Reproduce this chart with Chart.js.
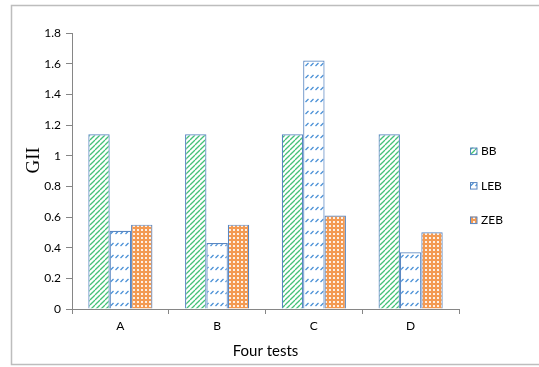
<!DOCTYPE html>
<html>
<head>
<meta charset="utf-8">
<script src="https://cdn.jsdelivr.net/npm/chart.js@4/dist/chart.umd.min.js"></script>
<style>
  html, body { margin: 0; padding: 0; background: #fff; }
  #wrap { position: relative; width: 539px; height: 367px; }
</style>
</head>
<body>
<div id="wrap"><canvas id="c" width="539" height="367"></canvas></div>
<script>
// GII per test for the three beam types
const categories = ['A', 'B', 'C', 'D'];
const seriesNames = ['BB', 'LEB', 'ZEB'];
const bbValues  = [1.14, 1.14, 1.14, 1.14];
const lebValues = [0.51, 0.43, 1.62, 0.37];
const zebValues = [0.55, 0.55, 0.61, 0.50];
const yTickValues = [0, 0.2, 0.4, 0.6, 0.8, 1, 1.2, 1.4, 1.6, 1.8];
const yTickLabels = ['0', '0.2', '0.4', '0.6', '0.8', '1', '1.2', '1.4', '1.6', '1.8'];
const xTitle = 'Four tests';
const yTitle = 'GII';

const labelFont = 'Lato, "Liberation Sans", sans-serif';

// Fill patterns built on small tiles
function makeTile(w, h, draw) {
  const t = document.createElement('canvas');
  t.width = w; t.height = h;
  const g = t.getContext('2d');
  draw(g, w, h);
  return document.getElementById('c').getContext('2d').createPattern(t, 'repeat');
}
const greenHatch = makeTile(5, 5, (g, w, h) => {
  g.fillStyle = '#ffffff'; g.fillRect(0, 0, w, h);
  g.strokeStyle = '#45c177'; g.lineWidth = 1.3;
  for (let k = -1; k <= 1; k++) {
    g.beginPath(); g.moveTo(k * w, h); g.lineTo(k * w + w, 0); g.stroke();
  }
});
const blueDashes = makeTile(5, 12, (g, w, h) => {
  g.fillStyle = '#ffffff'; g.fillRect(0, 0, w, h);
  g.strokeStyle = '#4a90d6'; g.lineWidth = 1.2;
  g.beginPath(); g.moveTo(0.5, 6); g.lineTo(3.5, 3); g.stroke();
});
const orangeGrid = makeTile(4, 4, (g, w, h) => {
  g.fillStyle = '#f39a52'; g.fillRect(0, 0, w, h);
  g.fillStyle = 'rgba(255,255,255,0.85)'; g.fillRect(1, 1, 2, 2);
});
const fills = [greenHatch, blueDashes, orangeGrid];
const edgeColor = '#5a87c2';

// Outer frame of the chart
const framePlugin = {
  id: 'frame',
  beforeDraw(chart) {
    const ctx = chart.ctx;
    ctx.save();
    ctx.strokeStyle = '#bdbdbd';
    ctx.lineWidth = 1.5;
    ctx.strokeRect(11.5, 5.5, 560, 359);
    ctx.restore();
  }
};

// Vertical axis caption, set beside the upper half of the value labels
const yCaption = {
  id: 'yCaption',
  afterDraw(chart) {
    const ctx = chart.ctx;
    const cy = chart.scales.y.getPixelForValue(0.97);
    ctx.save();
    ctx.translate(34, cy);
    ctx.rotate(-Math.PI / 2);
    ctx.fillStyle = '#000';
    ctx.font = '19px "Liberation Serif", serif';
    ctx.textAlign = 'center';
    ctx.textBaseline = 'middle';
    ctx.fillText(yTitle, 0, 0);
    ctx.restore();
  }
};

// Legend column to the right of the plot
const sideLegend = {
  id: 'sideLegend',
  afterDraw(chart) {
    const ctx = chart.ctx;
    const x = chart.chartArea.right + 11;
    const y0 = chart.scales.y.getPixelForValue(1.03);
    const gap = 34.5;
    ctx.save();
    chart.data.datasets.forEach((ds, i) => {
      const cy = y0 + i * gap;
      ctx.fillStyle = ds.backgroundColor;
      ctx.fillRect(x, cy - 3.5, 7, 7);
      ctx.strokeStyle = edgeColor; ctx.lineWidth = 1;
      ctx.strokeRect(x + 0.5, cy - 3, 6.5, 6.5);
      ctx.fillStyle = '#000';
      ctx.font = '12px ' + labelFont;
      ctx.textBaseline = 'middle';
      ctx.textAlign = 'left';
      ctx.fillText(ds.label, x + 11, cy + 0.5);
    });
    ctx.restore();
  }
};

const valueSets = [bbValues, lebValues, zebValues];

new Chart(document.getElementById('c'), {
  type: 'bar',
  data: {
    labels: categories,
    datasets: seriesNames.map((name, i) => ({
      label: name,
      data: valueSets[i],
      backgroundColor: fills[i],
      borderColor: edgeColor,
      borderWidth: 1.2,
      barPercentage: 1,
      categoryPercentage: 0.663
    }))
  },
  options: {
    responsive: false,
    animation: false,
    events: [],
    layout: { padding: { left: 20, top: 33, right: 80, bottom: 7 } },
    plugins: { legend: { display: false }, tooltip: { enabled: false } },
    scales: {
      x: {
        grid: { drawOnChartArea: false, drawTicks: true, tickLength: 5, color: '#868686', offset: true },
        border: { color: '#868686', width: 1 },
        ticks: { color: '#000', font: { family: labelFont, size: 12 }, padding: 5 },
        title: { display: true, text: xTitle, color: '#000', font: { family: labelFont, size: 15 }, padding: { top: 0, bottom: 0 } },
        afterFit(scale) { scale.height = 51; }
      },
      y: {
        min: 0, max: 1.8,
        grid: { drawOnChartArea: false, drawTicks: true, tickLength: 6, color: '#868686' },
        border: { color: '#868686', width: 1 },
        afterBuildTicks(scale) { scale.ticks = yTickValues.map(v => ({ value: v })); },
        ticks: {
          color: '#000', font: { family: labelFont, size: 12 }, padding: 5,
          callback: (v, idx) => yTickLabels[idx]
        },
        title: { display: false },
        afterFit(scale) { scale.width = 52; }
      }
    }
  },
  plugins: [framePlugin, yCaption, sideLegend]
});
</script>
</body>
</html>
